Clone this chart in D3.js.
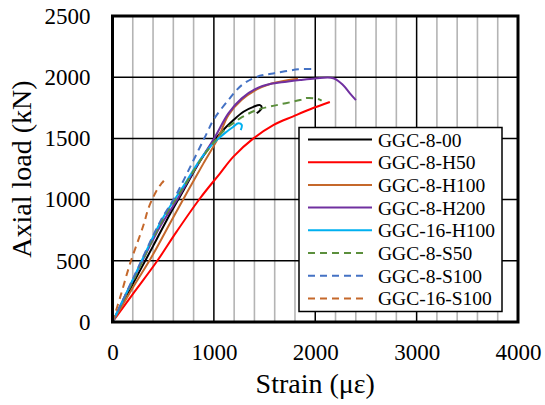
<!DOCTYPE html>
<html>
<head>
<meta charset="utf-8">
<script src="https://cdn.jsdelivr.net/npm/d3@7"></script>
<style>
  html, body { margin: 0; padding: 0; background: #fff; }
</style>
</head>
<body>
<div id="container"></div>
<script>
// axis ticks
const xTicks = [0, 1000, 2000, 3000, 4000];
const yTicks = [0, 500, 1000, 1500, 2000, 2500];

// series names, in legend order
const seriesNames = ['GGC-8-00', 'GGC-8-H50', 'GGC-8-H100', 'GGC-8-H200', 'GGC-16-H100', 'GGC-8-S50', 'GGC-8-S100', 'GGC-16-S100'];

// [strain, load]
const ggc800 = [[0, 0], [200, 310], [400, 620], [536, 834], [700, 1075], [867, 1320], [1000, 1480], [1061, 1541], [1193, 1650], [1292, 1718], [1390, 1758], [1455, 1772], [1472, 1750], [1423, 1705]];
const ggc8H50 = [[0, 0], [200, 228], [437, 494], [634, 740], [864, 1011], [1061, 1215], [1193, 1351], [1390, 1500], [1586, 1609], [1783, 1680], [1950, 1738], [2144, 1797]];
const ggc8H100 = [[0, 0], [200, 280], [388, 535], [585, 834], [750, 1080], [900, 1300], [1040, 1500], [1143, 1690], [1275, 1815], [1423, 1900], [1554, 1945], [1700, 1972], [1830, 1987]];
const ggc8H200 = [[0, 0], [200, 340], [470, 780], [634, 995], [820, 1260], [1012, 1514], [1143, 1705], [1275, 1827], [1423, 1909], [1554, 1944], [1718, 1963], [1849, 1977], [2000, 1990], [2178, 1992], [2276, 1935], [2342, 1868], [2401, 1813]];
const ggc16H100 = [[0, 0], [200, 345], [486, 834], [700, 1110], [862, 1323], [994, 1460], [1126, 1555], [1192, 1595], [1241, 1623], [1275, 1609], [1265, 1568]];
const ggc8S50 = [[0, 0], [200, 330], [486, 820], [700, 1100], [867, 1320], [1000, 1470], [1100, 1565], [1209, 1636], [1258, 1664], [1423, 1732], [1620, 1772], [1849, 1813], [1916, 1830], [2027, 1822], [2063, 1808]];
const ggc8S100 = [[0, 0], [200, 350], [470, 820], [618, 1024], [780, 1290], [930, 1542], [995, 1650], [1143, 1813], [1275, 1935], [1423, 2003], [1586, 2031], [1833, 2064], [1965, 2066]];
const ggc16S100 = [[0, 0], [80, 215], [175, 481], [305, 790], [355, 930], [404, 1024], [450, 1095], [486, 1134], [519, 1166]];

const seriesData = [ggc800, ggc8H50, ggc8H100, ggc8H200, ggc16H100, ggc8S50, ggc8S100, ggc16S100];
const seriesColors = ['#000000', '#ff0000', '#c5682b', '#7030a0', '#00b0f0', '#5b8f3c', '#4472c4', '#c5682b'];
const seriesDashed = [false, false, false, false, false, true, true, true];

const FONT = "'Liberation Serif', 'Times New Roman', Times, serif";
const width = 545, height = 405;
const plot = { left: 112.5, right: 518, top: 16, bottom: 322 };

const svg = d3.select('#container')
    .append('svg')
    .attr('width', width)
    .attr('height', height)
    .style('font-family', FONT);

const x = d3.scaleLinear().domain([0, 4000]).range([plot.left, plot.right]);
const y = d3.scaleLinear().domain([0, 2500]).range([plot.bottom, plot.top]);

// minor vertical grid every 200
const minorX = d3.range(200, 4000, 200).filter(v => v % 1000 !== 0);
svg.append('g')
    .selectAll('line')
    .data(minorX)
    .enter()
    .append('line')
    .attr('x1', d => x(d)).attr('x2', d => x(d))
    .attr('y1', plot.top).attr('y2', plot.bottom)
    .attr('stroke', '#b4b4b4')
    .attr('stroke-width', 1.6);

// major grid
const grid = svg.append('g');
grid.selectAll('.vx')
    .data(xTicks.slice(1, -1))
    .enter()
    .append('line')
    .attr('x1', d => x(d)).attr('x2', d => x(d))
    .attr('y1', plot.top).attr('y2', plot.bottom)
    .attr('stroke', '#000')
    .attr('stroke-width', 1.5);
grid.selectAll('.hy')
    .data(yTicks.slice(1, -1))
    .enter()
    .append('line')
    .attr('x1', plot.left).attr('x2', plot.right)
    .attr('y1', d => y(d)).attr('y2', d => y(d))
    .attr('stroke', '#000')
    .attr('stroke-width', 1.5);

// curves
const line = d3.line()
    .x(d => x(d[0]))
    .y(d => y(d[1]))
    .curve(d3.curveCatmullRom.alpha(0.5));

svg.append('g')
    .selectAll('path')
    .data(seriesData)
    .enter()
    .append('path')
    .attr('d', line)
    .attr('fill', 'none')
    .attr('stroke', (d, i) => seriesColors[i])
    .attr('stroke-width', 2)
    .attr('stroke-dasharray', (d, i) => seriesDashed[i] ? '7,5' : null);

// legend
const legend = svg.append('g');
legend.append('rect')
    .attr('x', 299).attr('y', 127.5)
    .attr('width', 203).attr('height', 184)
    .attr('fill', '#fff')
    .attr('stroke', '#000')
    .attr('stroke-width', 1.5);

const rows = legend.selectAll('.row')
    .data(seriesNames)
    .enter()
    .append('g')
    .attr('transform', (d, i) => `translate(0,${139.5 + i * 22.7})`);

rows.append('line')
    .attr('x1', 308)
    .attr('x2', (d, i) => seriesDashed[i] ? 366 : 372)
    .attr('y1', 0).attr('y2', 0)
    .attr('stroke', (d, i) => seriesColors[i])
    .attr('stroke-width', 2)
    .attr('stroke-dasharray', (d, i) => seriesDashed[i] ? '7,5' : null);

rows.append('text')
    .attr('x', 378)
    .attr('y', 7)
    .style('font-family', FONT)
    .style('font-size', '19.5px')
    .text(d => d);

// plot border
svg.append('rect')
    .attr('x', plot.left).attr('y', plot.top)
    .attr('width', plot.right - plot.left)
    .attr('height', plot.bottom - plot.top)
    .attr('fill', 'none')
    .attr('stroke', '#000')
    .attr('stroke-width', 3);

// axes (labels only)
const xAxis = svg.append('g')
    .attr('transform', `translate(0,${plot.bottom})`)
    .call(d3.axisBottom(x).tickValues(xTicks).tickSize(0).tickPadding(22).tickFormat(d3.format('d')));
xAxis.select('.domain').remove();
xAxis.attr('font-family', null).attr('font-size', null);
xAxis.selectAll('text')
    .style('font-family', FONT)
    .style('font-size', '23px');

const yAxis = svg.append('g')
    .attr('transform', `translate(${plot.left},0)`)
    .call(d3.axisLeft(y).tickValues(yTicks).tickSize(0).tickPadding(22).tickFormat(d3.format('d')));
yAxis.select('.domain').remove();
yAxis.attr('font-family', null).attr('font-size', null);
yAxis.selectAll('text')
    .style('font-family', FONT)
    .style('font-size', '23px');

// axis titles
svg.append('text')
    .attr('x', (plot.left + plot.right) / 2)
    .attr('y', 393)
    .attr('text-anchor', 'middle')
    .style('font-family', FONT)
    .style('font-size', '28px')
    .text('Strain (με)');

svg.append('text')
    .attr('transform', `translate(31,${(plot.top + plot.bottom) / 2}) rotate(-90)`)
    .attr('text-anchor', 'middle')
    .style('font-family', FONT)
    .style('font-size', '28px')
    .text('Axial load (kN)');
</script>
</body>
</html>
